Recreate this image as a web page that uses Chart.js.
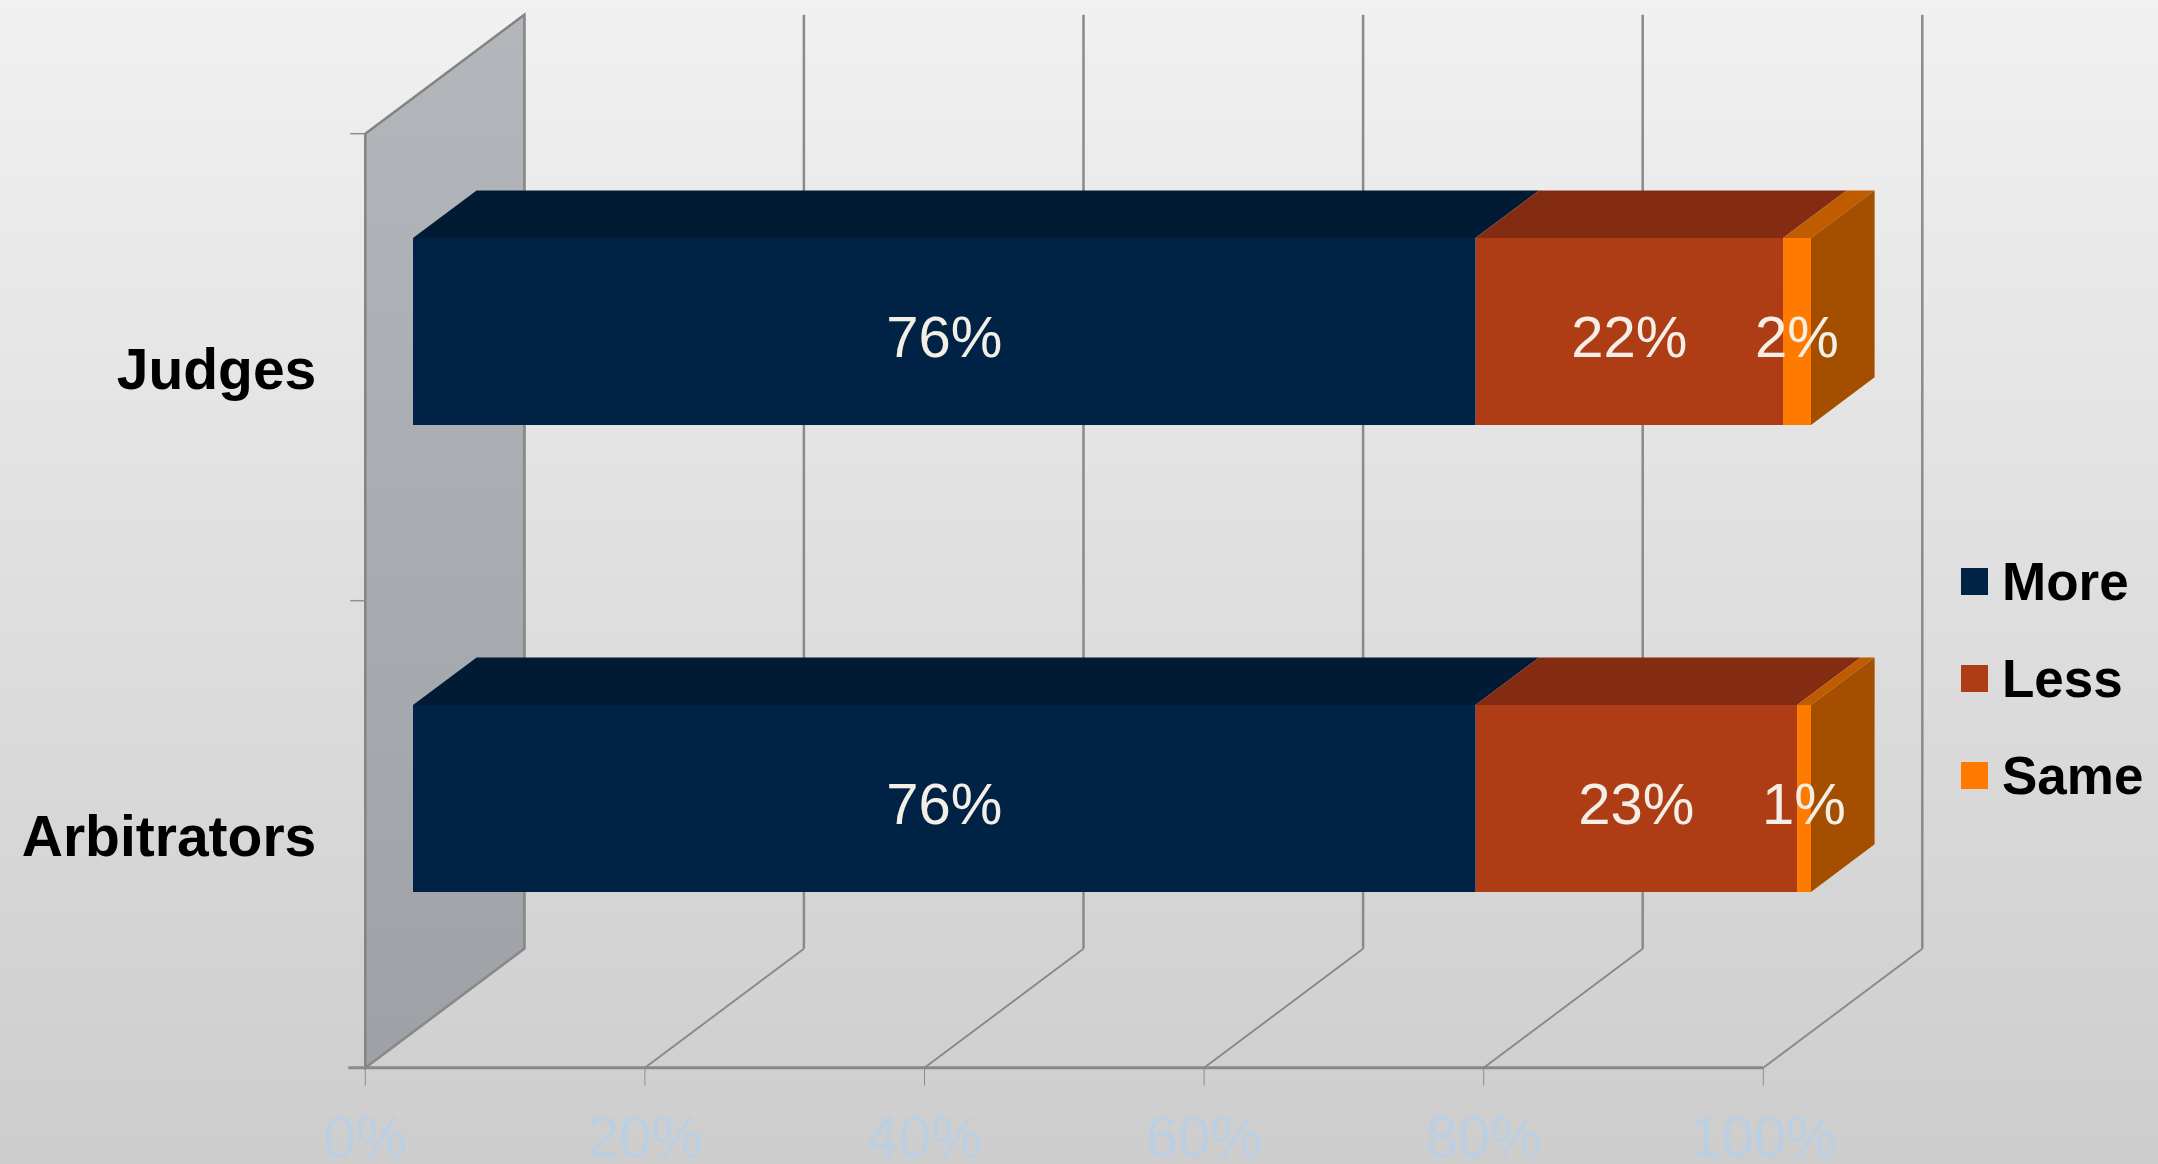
<!DOCTYPE html>
<html>
<head>
<meta charset="utf-8">
<title>Judges vs Arbitrators</title>
<script src="https://cdn.jsdelivr.net/npm/chart.js@4.4.1/dist/chart.umd.min.js"></script>
<style>
  html, body { margin: 0; padding: 0; background: #e0e0e0; }
  canvas { display: block; }
</style>
</head>
<body>
<canvas id="chart" width="2158" height="1164"></canvas>
<script>
const categories = ['Judges', 'Arbitrators'];
const seriesNames = ['More', 'Less', 'Same'];
const moreValues = [76, 76];
const lessValues = [22, 23];
const sameValues = [2, 1];

// front face, top face and end face colour of each series
const frontColors = ['#002345', '#ae3d16', '#ff7b00'];
const topColors = ['#001b33', '#842c12', '#c05c00'];
const sideColors = ['#00172c', '#6e240e', '#a44f00'];

const FONT = '"Liberation Sans", Arial, sans-serif';
// depth of the fake 3d box; the bars sit between 30% and 70% of it
const DEPTH_X = 159, DEPTH_Y = 119;
const BAR_FRONT = 0.3, BAR_BACK = 0.7;

function poly(ctx, pts, fill, stroke, lw) {
    ctx.beginPath();
    ctx.moveTo(pts[0][0], pts[0][1]);
    for (let i = 1; i < pts.length; i++) ctx.lineTo(pts[i][0], pts[i][1]);
    ctx.closePath();
    if (fill) { ctx.fillStyle = fill; ctx.fill(); }
    if (stroke) { ctx.strokeStyle = stroke; ctx.lineWidth = lw || 1; ctx.stroke(); }
}

function line(ctx, x1, y1, x2, y2, color, lw) {
    ctx.beginPath();
    ctx.moveTo(x1, y1);
    ctx.lineTo(x2, y2);
    ctx.strokeStyle = color;
    ctx.lineWidth = lw;
    ctx.stroke();
}

const box3d = {
    id: 'box3d',
    beforeDraw(chart) {
        const { ctx, width, height } = chart;
        const g = ctx.createLinearGradient(0, 0, 0, height);
        g.addColorStop(0, '#f1f1f1');
        g.addColorStop(1, '#cdcdcd');
        ctx.save();
        ctx.fillStyle = g;
        ctx.fillRect(0, 0, width, height);
        ctx.restore();
    },
    beforeDatasetsDraw(chart) {
        const { ctx, chartArea: a, scales: { x, y } } = chart;
        const fx = -BAR_FRONT * DEPTH_X, fy = BAR_FRONT * DEPTH_Y;
        const bx = (1 - BAR_FRONT) * DEPTH_X, by = -(1 - BAR_FRONT) * DEPTH_Y;
        const fl = a.left + fx, ft = a.top + fy, fb = a.bottom + fy;
        const bl = a.left + bx, bt = a.top + by, bb = a.bottom + by;

        ctx.save();
        // side wall
        const wg = ctx.createLinearGradient(0, bt, 0, fb);
        wg.addColorStop(0, '#b3b6bb');
        wg.addColorStop(1, '#9ea2a7');
        poly(ctx, [[fl, ft], [bl, bt], [bl, bb], [fl, fb]], wg, '#838383', 2.5);

        // grid on back wall and floor
        x.ticks.forEach(t => {
            const px = x.getPixelForValue(t.value);
            line(ctx, px + bx, bt, px + bx, bb, '#8a8a8a', 2.5);
            line(ctx, px + bx, bb, px + fx, fb, '#8a8a8a', 2);
            line(ctx, px + fx, fb, px + fx, fb + 18, '#8e8e8e', 1);
        });
        line(ctx, fl - 17, fb, x.right + fx, fb, '#888888', 3);

        // category ticks on the wall edge
        for (let i = -0.5; i <= categories.length - 0.5; i += 1) {
            const py = y.getPixelForValue(i) + fy;
            line(ctx, fl - 15, py, fl, py, '#8e8e8e', 1.5);
        }

        // category labels
        ctx.font = 'bold 57px ' + FONT;
        ctx.fillStyle = '#000000';
        ctx.textAlign = 'right';
        ctx.textBaseline = 'alphabetic';
        categories.forEach((c, i) => {
            const py = y.getPixelForValue(i) + fy;
            ctx.fillText(c, fl - 49, py + 21.5);
        });

        // value axis labels
        ctx.font = '58px ' + FONT;
        ctx.fillStyle = '#bccfe2';
        ctx.textAlign = 'center';
        x.ticks.forEach(t => {
            const px = x.getPixelForValue(t.value);
            ctx.fillText(t.value + '%', px + fx, fb + 89);
        });
        ctx.restore();
    },
    afterDatasetsDraw(chart) {
        const { ctx } = chart;
        const dx = (BAR_BACK - BAR_FRONT) * DEPTH_X, dy = (BAR_BACK - BAR_FRONT) * DEPTH_Y;
        ctx.save();
        const lastEl = {};
        chart.data.datasets.forEach((ds, di) => {
            const meta = chart.getDatasetMeta(di);
            meta.data.forEach((el, i) => {
                const p = el.getProps(['x', 'y', 'base', 'height'], true);
                const top = p.y - p.height / 2;
                const x0 = Math.min(p.base, p.x), x1 = Math.max(p.base, p.x);
                poly(ctx, [[x0, top], [x1, top], [x1 + dx, top - dy], [x0 + dx, top - dy]], topColors[di]);
                if (ds.data[i] > 0) lastEl[i] = { p, di };
            });
        });
        Object.values(lastEl).forEach(({ p, di }) => {
            const top = p.y - p.height / 2, bot = p.y + p.height / 2;
            const xe = Math.max(p.base, p.x);
            poly(ctx, [[xe, top], [xe + dx, top - dy], [xe + dx, bot - dy], [xe, bot]], sideColors[di]);
        });

        // value labels centred on the front face
        ctx.font = '58px ' + FONT;
        ctx.fillStyle = '#f3efe6';
        ctx.textAlign = 'center';
        ctx.textBaseline = 'alphabetic';
        chart.data.datasets.forEach((ds, di) => {
            chart.getDatasetMeta(di).data.forEach((el, i) => {
                const p = el.getProps(['x', 'y', 'base'], true);
                ctx.fillText(ds.data[i] + '%', (p.x + p.base) / 2, p.y + 25);
            });
        });
        ctx.restore();
    },
    afterDraw(chart) {
        const { ctx } = chart;
        ctx.save();
        ctx.font = 'bold 53px ' + FONT;
        ctx.textAlign = 'left';
        ctx.textBaseline = 'alphabetic';
        chart.data.datasets.forEach((ds, di) => {
            const yy = 568 + di * 97;
            ctx.fillStyle = ds.backgroundColor;
            ctx.fillRect(1961, yy, 27, 27);
            ctx.fillStyle = '#000000';
            ctx.fillText(ds.label, 2002, yy + 32);
        });
        ctx.restore();
    }
};

const ctx = document.getElementById('chart');
const chart = new Chart(ctx, {
    type: 'bar',
    data: {
        labels: categories,
        datasets: [
            { label: seriesNames[0], data: moreValues, backgroundColor: frontColors[0] },
            { label: seriesNames[1], data: lessValues, backgroundColor: frontColors[1] },
            { label: seriesNames[2], data: sameValues, backgroundColor: frontColors[2] }
        ]
    },
    options: {
        indexAxis: 'y',
        responsive: false,
        animation: false,
        events: [],
        barPercentage: 0.4,
        categoryPercentage: 1,
        borderWidth: 0,
        layout: {
            padding: { left: 413, right: 347, top: 98, bottom: 132 }
        },
        plugins: {
            legend: { display: false },
            tooltip: { enabled: false }
        },
        scales: {
            x: {
                stacked: true,
                min: 0,
                max: 100,
                display: false,
                ticks: { stepSize: 20 }
            },
            y: {
                stacked: true,
                display: false
            }
        }
    },
    plugins: [box3d]
});
</script>
</body>
</html>
